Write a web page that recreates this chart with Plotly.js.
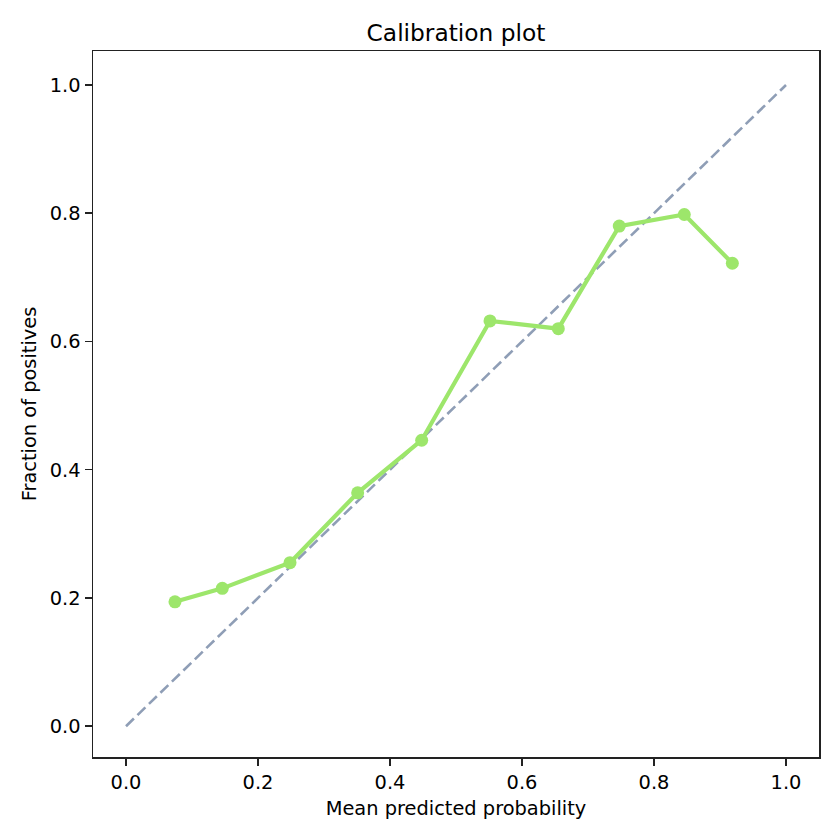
<!DOCTYPE html>
<html>
<head>
<meta charset="utf-8">
<script src="https://cdn.plot.ly/plotly-3.0.1.min.js"></script>
<style>html,body{margin:0;padding:0;background:#fff;}#chart{width:840px;height:840px;}</style>
</head>
<body>
<div id="chart"></div>
<script>
const meanPredicted = [0.0742, 0.1459, 0.2485, 0.351, 0.448, 0.5515, 0.6550, 0.7474, 0.8459, 0.9187];
const fractionPositives = [0.194, 0.215, 0.255, 0.364, 0.446, 0.632, 0.620, 0.780, 0.798, 0.722];
const perfectX = [0, 1];
const perfectY = [0, 1];
const tickVals = [0, 0.2, 0.4, 0.6, 0.8, 1.0];
const tickText = ['0.0', '0.2', '0.4', '0.6', '0.8', '1.0'];

const font = {family: 'DejaVu Sans', size: 19.4, color: '#000'};
const axisBase = {
  tickvals: tickVals,
  ticktext: tickText,
  ticks: 'outside',
  ticklen: 7,
  tickwidth: 1.5,
  tickcolor: '#222',
  showline: true,
  linecolor: '#222',
  linewidth: 1.5,
  mirror: true,
  showgrid: false,
  zeroline: false,
  tickfont: font
};

Plotly.newPlot('chart', [
  {x: perfectX, y: perfectY, mode: 'lines', line: {color: '#8f9eb6', width: 2.6, dash: '11px,5px'}, showlegend: false, hoverinfo: 'skip'},
  {x: meanPredicted, y: fractionPositives, mode: 'lines+markers', line: {color: '#9de66b', width: 4.2}, marker: {color: '#9de66b', size: 13}, showlegend: false}
], {
  width: 840, height: 840,
  margin: {l: 93, r: 21, t: 51, b: 83},
  paper_bgcolor: '#fff', plot_bgcolor: '#fff',
  font: font,
  title: {text: 'Calibration plot', font: {family: 'DejaVu Sans', size: 23.3, color: '#000'}, x: 0.5, xanchor: 'center', xref: 'paper', y: 0.9607, yanchor: 'middle', yref: 'container'},
  xaxis: Object.assign({}, axisBase, {range: [-0.05, 1.05], title: {text: 'Mean predicted probability', font: font, standoff: 8}}),
  yaxis: Object.assign({}, axisBase, {range: [-0.048, 1.053], title: {text: 'Fraction of positives', font: font, standoff: 8}})
}, {displayModeBar: false, staticPlot: true});
</script>
</body>
</html>
